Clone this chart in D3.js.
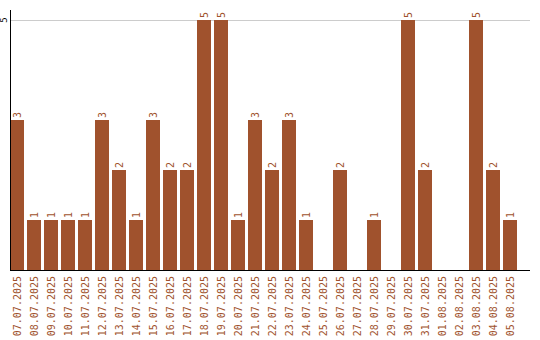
<!DOCTYPE html>
<html><head><meta charset="utf-8">
<script src="https://cdn.jsdelivr.net/npm/d3@7"></script>
<style>body{margin:0;background:#fff}svg{display:block}</style>
</head><body>
<script>
const categories = ["07.07.2025","08.07.2025","09.07.2025","10.07.2025","11.07.2025","12.07.2025","13.07.2025","14.07.2025","15.07.2025","16.07.2025","17.07.2025","18.07.2025","19.07.2025","20.07.2025","21.07.2025","22.07.2025","23.07.2025","24.07.2025","25.07.2025","26.07.2025","27.07.2025","28.07.2025","29.07.2025","30.07.2025","31.07.2025","01.08.2025","02.08.2025","03.08.2025","04.08.2025","05.08.2025"];
const values = [3,1,1,1,1,3,2,1,3,2,2,5,5,1,3,2,3,1,0,2,0,1,0,5,2,0,0,5,2,1];
const yTicks = [5];

const W = 540, H = 340;
const color = "#a0522d";
const font = "DejaVu Sans Mono, monospace";
const svg = d3.select("body").append("svg").attr("width", W).attr("height", H);

const rows = categories.map((c, i) => ({cat: c, val: values[i]}));

const x = d3.scaleBand().domain(categories).range([10, 517]).paddingInner(3/17).paddingOuter(0);
const y = d3.scaleLinear().domain([0, 5]).range([270, 20]);

// gridlines
svg.append("g").selectAll("line").data(yTicks).join("line")
  .attr("x1", 11).attr("x2", 530)
  .attr("y1", d => y(d) + 0.5).attr("y2", d => y(d) + 0.5)
  .attr("stroke", "#cccccc").attr("stroke-width", 1);

// y tick labels
svg.append("g").selectAll("text").data(yTicks).join("text")
  .attr("transform", d => `translate(7,${y(d)}) rotate(-90)`)
  .attr("text-anchor", "middle")
  .attr("font-family", font).attr("font-size", 9).attr("fill", "#000")
  .text(d => d);

// bars
svg.append("g").selectAll("rect").data(rows).join("rect")
  .attr("x", d => x(d.cat))
  .attr("width", x.bandwidth())
  .attr("y", d => y(d.val))
  .attr("height", d => y(0) - y(d.val))
  .attr("fill", color);

// value labels
svg.append("g").selectAll("text").data(rows.filter(d => d.val > 0)).join("text")
  .attr("transform", d => `translate(${x(d.cat) + x.bandwidth()/2 + 3.5},${y(d.val) - 2}) rotate(-90)`)
  .attr("font-family", font).attr("font-size", 10).attr("fill", color)
  .text(d => d.val);

// category labels
svg.append("g").selectAll("text").data(categories).join("text")
  .attr("transform", d => `translate(${x(d) + x.bandwidth()/2 + 3.5},276) rotate(-90)`)
  .attr("text-anchor", "end")
  .attr("font-family", font).attr("font-size", 10).attr("fill", color)
  .text(d => d);

// axes lines
svg.append("line").attr("x1", 10.5).attr("x2", 10.5).attr("y1", 10).attr("y2", 270.5)
  .attr("stroke", "#000").attr("stroke-width", 1);
svg.append("line").attr("x1", 10).attr("x2", 530).attr("y1", 270.5).attr("y2", 270.5)
  .attr("stroke", "#000").attr("stroke-width", 1);
</script>
</body></html>
